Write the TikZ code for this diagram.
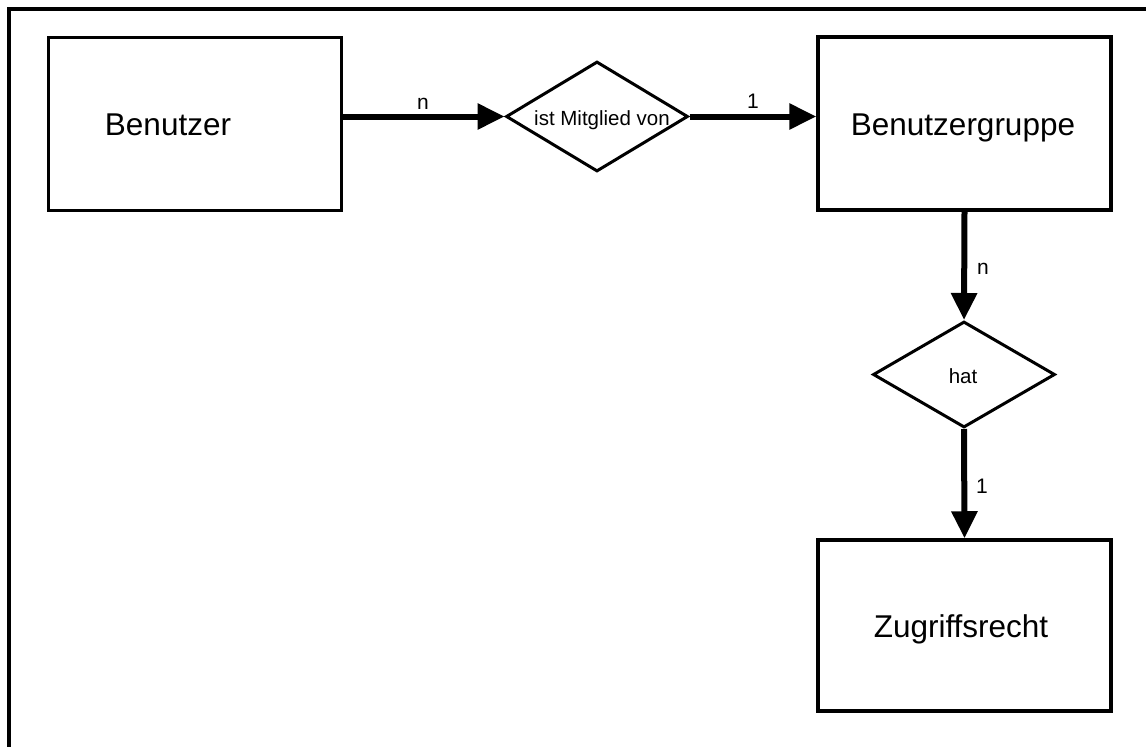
\documentclass[tikz,border=0pt]{standalone}
\usepackage{fontspec}
\setmainfont{Liberation Sans}
\usetikzlibrary{shapes.geometric,arrows.meta}

\begin{document}
\begin{tikzpicture}[x=1pt,y=-1pt,
  entity/.style={draw, line width=3.5pt, minimum width=293pt, minimum height=173pt,
                 inner sep=0pt},
  etext/.style={inner sep=0pt, anchor=base, font=\fontsize{31.5}{36}\selectfont},
  relation/.style={draw, diamond, aspect=1.68, line width=3pt, inner sep=0pt},
  rtext/.style={inner sep=0pt, anchor=base, font=\fontsize{20.5}{24}\selectfont},
  rel/.style={line width=6pt, -{Triangle[length=27pt,width=25pt]}},
  card/.style={inner sep=0pt, anchor=base, font=\fontsize{21}{24}\selectfont},
  frame/.style={line width=4pt}]

\useasboundingbox (0,0) rectangle (1146,747);

% outer frame (runs off the page on the right and at the bottom)
\coordinate (fbl) at (9,747);
\coordinate (ftl) at (9,9);
\coordinate (ftr) at (1146,9);
\draw[frame] (fbl) -- (ftl) -- (ftr);

% entities
\node[entity] (benutzer) at (195,124) {};
\node[entity] (gruppe) at (964.5,123.5) {};
\node[entity, minimum height=171pt] (recht) at (964.5,625.5) {};
\node[etext] (benutzerT) at (168,135) {Benutzer};
\node[etext] (gruppeT) at (963,135) {Benutzergruppe};
\node[etext] (rechtT) at (961,637) {Zugriffsrecht};

% relationships
\node[relation, minimum width=182pt, minimum height=110pt] (mitglied) at (597,116.5) {};
\node[relation, minimum width=182pt, minimum height=106pt] (hat) at (964,374.5) {};
\node[rtext] (mitgliedT) at (602,125) {ist Mitglied von};
\node[rtext] (hatT) at (963,383) {hat};

% connectors
\draw[rel] (benutzer.east |- mitglied.west) -- (mitglied.west);
\draw[rel] (mitglied.east) -- (gruppe.west |- mitglied.east);
\draw[rel] (gruppe.south) -- (hat.north);
\draw[rel] (hat.south) -- (recht.north);

% cardinalities
\node[card] (c1) at (423,109) {n};
\node[card] (c2) at (753,108) {1};
\node[card] (c3) at (983,274) {n};
\node[card] (c4) at (982,493) {1};

\end{tikzpicture}
\end{document}
